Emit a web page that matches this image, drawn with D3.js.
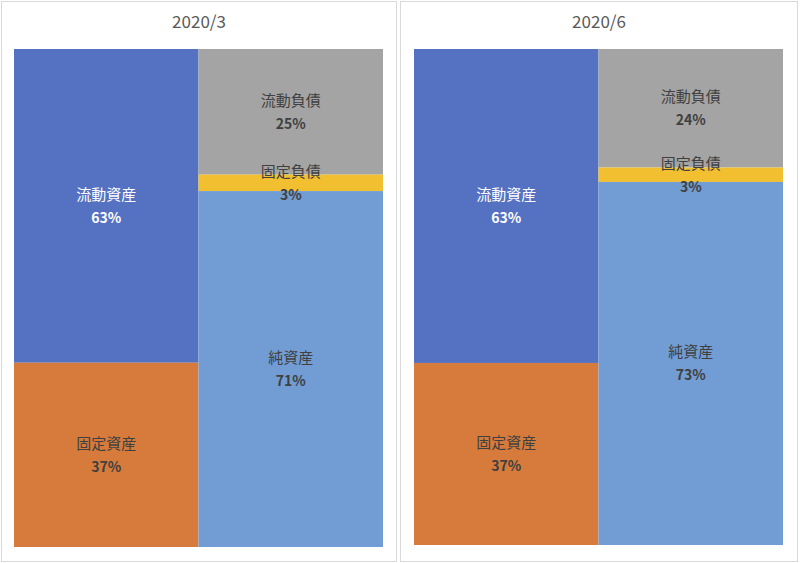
<!DOCTYPE html>
<html><head><meta charset="utf-8">
<script src="https://cdn.jsdelivr.net/npm/d3@7"></script>
<style>body{margin:0;background:#fff;}svg{display:block;}</style>
</head><body>
<svg id="chart" width="800" height="563"></svg>
<script>
// ---- data ----
const periods = ["2020/3", "2020/6"];
const columns = ["資産", "負債・純資産"];
const assetNames = ["流動資産", "固定資産"];
const liabNames = ["流動負債", "固定負債", "純資産"];
const assets2020_3 = [63.0, 37.0];
const liab2020_3 = [25.2, 3.3, 71.4];
const assets2020_6 = [63.3, 36.7];
const liab2020_6 = [23.9, 2.9, 73.2];

const colors = {
  "流動資産": "#5572C2", "固定資産": "#D67B3B",
  "流動負債": "#A4A4A4", "固定負債": "#F1BF2F", "純資産": "#719DD4"
};
const labelColors = {"流動資産": "#ffffff"};

const panelsData = [
  {title: periods[0], assets: assets2020_3, liab: liab2020_3},
  {title: periods[1], assets: assets2020_6, liab: liab2020_6}
];
const panelsLayout = [
  {x0: 1, x1: 397, px0: 14, px1: 383, py0: 49, py1: 547},
  {x0: 400, x1: 798, px0: 414, px1: 783, py0: 49, py1: 545}
];

const svg = d3.select("#chart");
const font = "'Noto Sans CJK JP', 'Noto Sans', sans-serif";

panelsData.forEach((p, i) => {
  const L = panelsLayout[i];
  const g = svg.append("g");
  g.append("rect").attr("x", L.x0 + 0.5).attr("y", 1.5)
    .attr("width", L.x1 - L.x0 - 1).attr("height", 560)
    .attr("fill", "#fff").attr("stroke", "#d9d9d9").attr("stroke-width", 1);
  g.append("text").attr("x", (L.x0 + L.x1) / 2).attr("y", 28)
    .attr("text-anchor", "middle").attr("font-family", font)
    .attr("font-size", 17).attr("fill", "#595959").text(p.title);

  const x = d3.scaleBand().domain(columns).range([L.px0, L.px1]).paddingInner(0).paddingOuter(0);
  const cols = [
    {col: columns[0], names: assetNames, vals: p.assets},
    {col: columns[1], names: liabNames, vals: p.liab}
  ];
  cols.forEach(c => {
    const total = d3.sum(c.vals);
    const y = d3.scaleLinear().domain([0, total]).range([L.py0, L.py1]);
    let acc = 0;
    const segs = c.names.map((n, k) => {
      const s = {name: n, v: c.vals[k], a: acc, b: acc + c.vals[k]};
      acc += c.vals[k];
      return s;
    });
    g.selectAll(null).data(segs).enter().append("rect")
      .attr("x", x(c.col)).attr("width", x.bandwidth())
      .attr("y", d => y(d.a)).attr("height", d => y(d.b) - y(d.a))
      .attr("fill", d => colors[d.name]);
    const lab = g.selectAll(null).data(segs).enter().append("text")
      .attr("text-anchor", "middle").attr("font-family", font)
      .attr("font-size", 15)
      .attr("fill", d => labelColors[d.name] || "#404040");
    lab.append("tspan").attr("x", x(c.col) + x.bandwidth() / 2)
      .attr("y", d => (y(d.a) + y(d.b)) / 2 - 6).text(d => d.name);
    lab.append("tspan").attr("x", x(c.col) + x.bandwidth() / 2)
      .attr("y", d => (y(d.a) + y(d.b)) / 2 + 17)
      .attr("font-weight", "bold").attr("font-size", 14)
      .text(d => Math.round(d.v) + "%");
  });
});
</script>
</body></html>
